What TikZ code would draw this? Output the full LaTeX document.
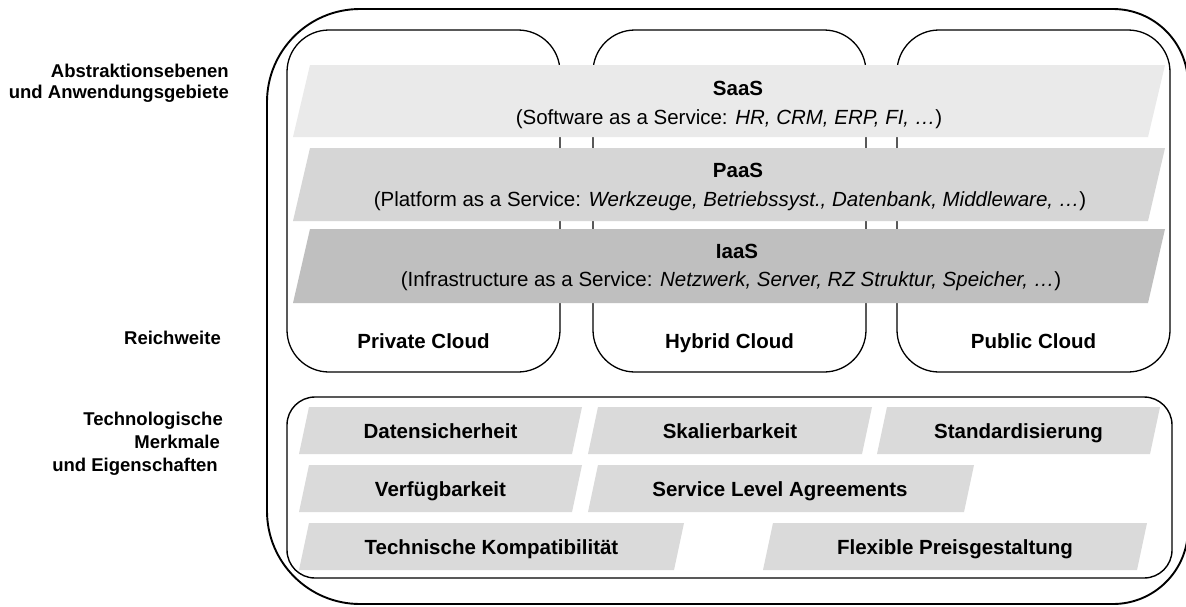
\documentclass[tikz,border=0pt]{standalone}
\usepackage{fontspec}
\setmainfont{Liberation Sans}
\definecolor{saasc}{RGB}{234,234,234}
\definecolor{paasc}{RGB}{214,214,214}
\definecolor{iaasc}{RGB}{191,191,191}
\definecolor{featc}{RGB}{218,218,218}
\newcommand\pgband[6]{\fill[#6] (#1,#3) -- (#2,#3) -- ({#2-#5},#4) -- ({#1-#5},#4) -- cycle;}
\begin{document}
\begin{tikzpicture}[x=1pt,y=-1pt,
  outerline/.style={line width=1.9pt},
  colbox/.style={draw, line width=1.3pt, rounded corners=42pt, inner sep=0pt, minimum width=273pt, minimum height=342pt},
  lbl/.style={font=\fontsize{20.5}{24}\selectfont\bfseries, anchor=base, inner sep=0pt},
  subl/.style={font=\fontsize{20.5}{24}\selectfont, anchor=base, inner sep=0pt},
  side/.style={font=\fontsize{18.5}{22}\selectfont\bfseries, anchor=base east, inner sep=0pt},
]
\clip (0,0) rectangle (1186,606);
\fill[white] (0,0) rectangle (1186,606);
% outer frame
\draw[outerline, rounded corners=93pt] (700,9) -- (267,9) -- (267,604) -- (700,604);
\draw[outerline, rounded corners=75pt] (700,9) -- (1188,9) -- (1188,604) -- (700,604);
% columns
\node[colbox] (priv) at (423.5,201) {};
\node[colbox] (hyb) at (729.5,201) {};
\node[colbox] (pub) at (1033.5,201) {};
% bottom box
\node[draw, line width=1.4pt, rounded corners=28pt, inner sep=0pt, minimum width=885pt, minimum height=181pt] (tech) at (729.5,487.5) {};
% service bands
\pgband{310}{1165}{65}{137}{17}{saasc}
\pgband{310}{1165}{148}{221}{17}{paasc}
\pgband{310}{1165}{229}{303}{17}{iaasc}
\node[lbl] (saas) at (738,95) {SaaS};
\node[subl] (saasd) at (729,124) {(Software as a Service: \textit{HR, CRM, ERP, FI, …})};
\node[lbl] (paas) at (738,177) {PaaS};
\node[subl] (paasd) at (730,206) {(Platform as a Service: \textit{Werkzeuge, Betriebssyst., Datenbank, Middleware, …})};
\node[lbl] (iaas) at (737,258) {IaaS};
\node[subl] (iaasd) at (731,286) {(Infrastructure as a Service: \textit{Netzwerk, Server, RZ Struktur, Speicher, …})};
% column labels
\node[lbl] (privl) at (423.5,348) {Private Cloud};
\node[lbl] (hybl) at (729.5,348) {Hybrid Cloud};
\node[lbl] (publ) at (1033.5,348) {Public Cloud};
% feature bands
\pgband{309}{582}{407}{454}{10}{featc}
\pgband{598}{872}{407}{454}{10}{featc}
\pgband{887}{1160}{407}{454}{10}{featc}
\pgband{309}{582}{465}{512}{10}{featc}
\pgband{598}{974}{465}{512}{10}{featc}
\pgband{309}{684}{523}{570}{10}{featc}
\pgband{773}{1147}{523}{570}{10}{featc}
\node[lbl] (f1) at (440.5,438) {Datensicherheit};
\node[lbl] (f2) at (730,438) {Skalierbarkeit};
\node[lbl] (f3) at (1018.5,438) {Standardisierung};
\node[lbl] (f4) at (440.5,496) {Verfügbarkeit};
\node[lbl] (f5) at (780,496) {Service Level Agreements};
\node[lbl] (f6) at (491.5,554) {Technische Kompatibilität};
\node[lbl] (f7) at (955,554) {Flexible Preisgestaltung};
% side labels
\node[side] (abs1) at (229,77) {Abstraktionsebenen};
\node[side] (abs2) at (229,98) {und Anwendungsgebiete};
\node[side] (rw) at (221,344) {Reichweite};
\node[side] (tm1) at (223,425) {Technologische};
\node[side] (tm2) at (220,448) {Merkmale};
\node[side] (tm3) at (218,471) {und Eigenschaften};
\end{tikzpicture}
\end{document}
